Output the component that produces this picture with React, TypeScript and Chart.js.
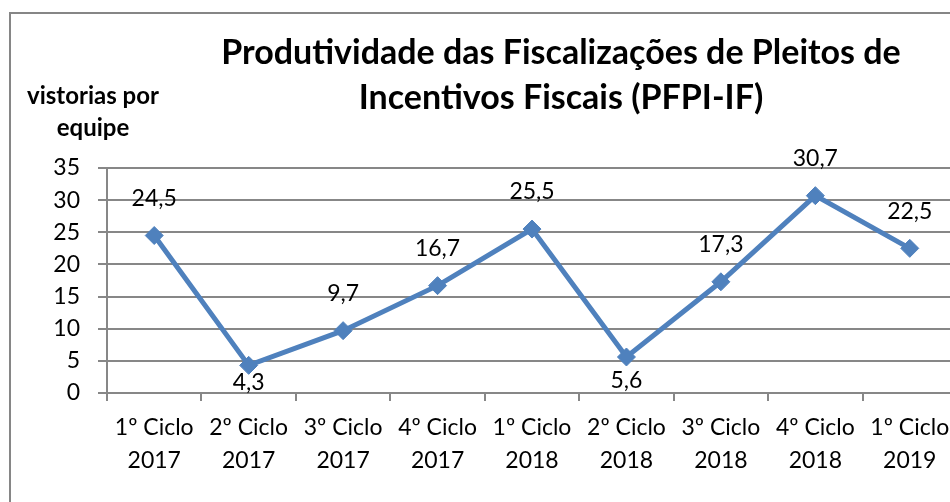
import React, { useEffect, useRef } from "react";
import { Chart, registerables } from "chart.js";

Chart.register(...registerables);

const cycles = ["1º Ciclo", "2º Ciclo", "3º Ciclo", "4º Ciclo", "1º Ciclo", "2º Ciclo", "3º Ciclo", "4º Ciclo", "1º Ciclo"];
const years = ["2017", "2017", "2017", "2017", "2018", "2018", "2018", "2018", "2019"];
const values = [24.5, 4.3, 9.7, 16.7, 25.5, 5.6, 17.3, 30.7, 22.5];
const titleLines = ["Produtividade das Fiscalizações de Pleitos de", "Incentivos Fiscais (PFPI-IF)"];
const yCaption = ["vistorias por", "equipe"];
const yMin = 0;
const yMax = 35;
const yStep = 5;

const FONT = "Lato, 'Open Sans', sans-serif";
const BLUE = "#4F81BD";
const GRID = "#878787";
const W = 1000;
const H = 502;

export default function App() {
  const ref = useRef<HTMLCanvasElement>(null);

  useEffect(() => {
    const canvas = ref.current!;
    const textPlugin = {
      id: "texts",
      afterDraw(chart: any) {
        const ctx = chart.ctx as CanvasRenderingContext2D;
        ctx.save();
        ctx.fillStyle = "#000";
        ctx.textAlign = "center";
        ctx.textBaseline = "alphabetic";
        ctx.font = `bold 34px ${FONT}`;
        ctx.fillText(titleLines[0], 561, 64);
        ctx.fillText(titleLines[1], 561, 109);
        ctx.font = `bold 24px ${FONT}`;
        ctx.fillText(yCaption[0], 93, 104);
        ctx.fillText(yCaption[1], 93, 136);
        ctx.font = `23px ${FONT}`;
        ctx.textBaseline = "middle";
        const meta = chart.getDatasetMeta(0);
        const area = chart.chartArea;
        const n = values.length;
        meta.data.forEach((pt: any, i: number) => {
          const v = values[i];
          const below = i > 0 && i < n - 1 && v < values[i - 1] && v < values[i + 1];
          let y = below ? pt.y + 24 : pt.y - 37;
          if (below) y = Math.min(y, area.bottom - 10);
          ctx.fillText(v.toFixed(1).replace(".", ","), pt.x, y);
        });
        ctx.restore();
      },
    };

    const chart = new Chart(canvas, {
      type: "line",
      data: {
        labels: cycles.map((c, i) => [c, years[i]]),
        datasets: [
          {
            data: values,
            borderColor: BLUE,
            backgroundColor: BLUE,
            borderWidth: 5,
            pointStyle: "rectRot",
            pointRadius: 9,
            pointBorderWidth: 1,
            pointBackgroundColor: BLUE,
            pointBorderColor: BLUE,
            tension: 0,
          },
        ],
      },
      options: {
        responsive: false,
        animation: false,
        devicePixelRatio: 1,
        layout: { padding: { left: 0, top: 168, right: W - 957, bottom: 0 } },
        plugins: {
          legend: { display: false },
          title: { display: false },
          tooltip: { enabled: false },
        },
        scales: {
          x: {
            type: "category",
            offset: true,
            grid: { offset: true, drawOnChartArea: false, drawTicks: true, tickLength: 8, color: GRID, lineWidth: 2 },
            border: { color: GRID, width: 2 },
            ticks: { color: "#000", font: { family: FONT, size: 23, lineHeight: 1.43 }, padding: 10, maxRotation: 0, autoSkip: false },
            afterFit: (s: any) => {
              s.height = 109;
            },
          },
          y: {
            min: yMin,
            max: yMax,
            ticks: { stepSize: yStep, color: "#000", font: { family: FONT, size: 23 }, padding: 18 },
            grid: { color: GRID, lineWidth: 2, tickLength: 9 },
            border: { color: GRID, width: 2 },
            afterFit: (s: any) => {
              s.width = 107;
            },
          },
        },
      },
      plugins: [textPlugin],
    } as any);

    return () => chart.destroy();
  }, []);

  return (
    <div style={{ position: "fixed", left: 0, top: 0, width: 950, height: 502, overflow: "hidden", background: "#fff" }}>
      <div
        style={{
          position: "absolute",
          left: 9,
          top: 12,
          width: 1200,
          height: 800,
          border: "2px solid #868686",
          boxSizing: "border-box",
        }}
      />
      <canvas ref={ref} width={W} height={H} style={{ position: "absolute", left: 0, top: 0, width: W, height: H }} />
    </div>
  );
}
